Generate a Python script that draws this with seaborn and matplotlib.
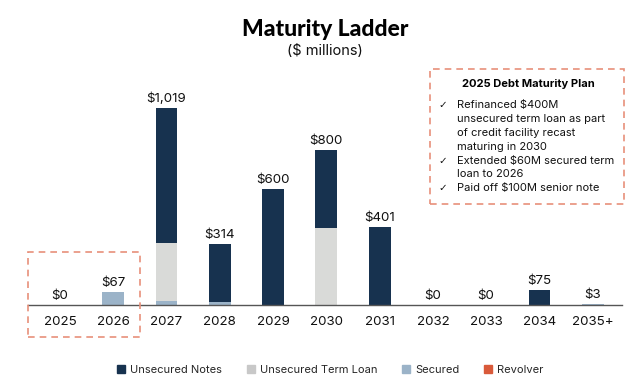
import matplotlib
matplotlib.use("Agg")
import matplotlib.pyplot as plt
import matplotlib.patches as mpatches
import seaborn as sns
import pandas as pd
import numpy as np

years = ["2025", "2026", "2027", "2028", "2029", "2030", "2031", "2032", "2033", "2034", "2035+"]
unsecured_notes = [0, 0, 700, 300, 600, 400, 401, 0, 0, 75, 0]
unsecured_term_loan = [0, 0, 300, 0, 0, 400, 0, 0, 0, 0, 0]
secured = [0, 67, 19, 14, 0, 0, 0, 0, 0, 0, 3]
revolver = [0, 0, 0, 0, 0, 0, 0, 0, 0, 0, 0]
totals = [0, 67, 1019, 314, 600, 800, 401, 0, 0, 75, 3]
labels = ["$" + format(t, ",") for t in totals]

C_NOTES = "#17324f"
C_TERM = "#d9dad8"
C_SEC = "#9bb3c8"
C_REV = "#d95a3a"
C_BOX = "#e8907a"

sns.set_style("white")
plt.rcParams["font.family"] = ["Inter", "DejaVu Sans"]

fig = plt.figure(figsize=(6.4, 3.82), dpi=100)
ax = fig.add_axes([28/640, (382-305)/382, (622-28)/640, 225/382])

df = pd.DataFrame({"year": years, "notes": unsecured_notes, "term": unsecured_term_loan,
                   "sec": secured, "rev": revolver})
df["c_rev"] = df["rev"]
df["c_sec"] = df["c_rev"] + df["sec"]
df["c_term"] = df["c_sec"] + df["term"]
df["c_notes"] = df["c_term"] + df["notes"]

w = 0.41
for col, color in [("c_notes", C_NOTES), ("c_term", C_TERM), ("c_sec", C_SEC), ("c_rev", C_REV)]:
    sns.barplot(data=df, x="year", y=col, color=color, width=w, ax=ax,
                linewidth=0, saturation=1, errorbar=None)

for i, (t, lab) in enumerate(zip(totals, labels)):
    ax.text(i, t + 16, lab, ha="center", va="bottom", fontsize=9.6, color="#111111")

ax.set_xlim(-0.6, 10.55)
ax.set_ylim(0, 1163)
ax.set_xlabel("")
ax.set_ylabel("")
ax.set_yticks([])
for s in ["top", "right", "left"]:
    ax.spines[s].set_visible(False)
ax.spines["bottom"].set_color("#555555")
ax.spines["bottom"].set_linewidth(1.0)
ax.tick_params(axis="x", length=0, pad=8, labelsize=9.6, colors="#111111")

# Titles
fig.text(0.508, 1 - 30/382, "Maturity Ladder", ha="center", va="center", fontsize=16.5,
         fontweight="black", family=["Lato", "DejaVu Sans"], color="#000000")
fig.text(0.508, 1 - 51/382, "($ millions)", ha="center", va="center", fontsize=10.5, color="#111111")

# Dashed boxes
def px_rect(x0, y0, x1, y1):
    return mpatches.Rectangle((x0/640, 1 - y1/382), (x1-x0)/640, (y1-y0)/382,
                              transform=fig.transFigure, fill=False, edgecolor=C_BOX,
                              linestyle=(0, (4, 3)), linewidth=1.2)
fig.patches.append(px_rect(28, 252, 140, 337))
fig.patches.append(px_rect(430, 69, 624, 204))

# Plan text
fig.text(528/640, 1 - 84/382, "2025 Debt Maturity Plan", ha="center", va="center",
         fontsize=8, fontweight="bold", color="#000000")
lines = [("\u2713", "Refinanced $400M", 105), ("", "unsecured term loan as part", 119),
         ("", "of credit facility recast", 133), ("", "maturing in 2030", 147),
         ("\u2713", "Extended $60M secured term", 161), ("", "loan to 2026", 174),
         ("\u2713", "Paid off $100M senior note", 188)]
for chk, txt, y in lines:
    if chk:
        fig.text(438/640, 1 - y/382, chk, ha="left", va="center", fontsize=7.5, color="#111111",
                 family=["DejaVu Sans"])
    fig.text(457/640, 1 - y/382, txt, ha="left", va="center", fontsize=8, color="#111111")

# Legend
handles = [mpatches.Patch(color=C_NOTES, label="Unsecured Notes"),
           mpatches.Patch(color="#c8c8c8", label="Unsecured Term Loan"),
           mpatches.Patch(color=C_SEC, label="Secured"),
           mpatches.Patch(color=C_REV, label="Revolver")]
fig.legend(handles=handles, loc="center", bbox_to_anchor=(0.516, 1 - 370/382), ncol=4,
           frameon=False, fontsize=8, handlelength=0.75, handleheight=0.75,
           columnspacing=2.2, handletextpad=0.45)

fig.savefig("out.png", dpi=100)
